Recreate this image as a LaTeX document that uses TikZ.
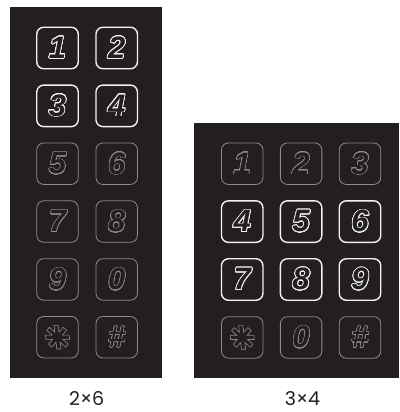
\documentclass[tikz,border=0pt]{standalone}
\usepackage{fontspec}
\usepackage{contour}
\newfontfamily\digitfont{Liberation Sans}
\newfontfamily\labelfont{Poppins}
\definecolor{panel}{HTML}{231F20}
\definecolor{brightc}{HTML}{F2F2F2}
\definecolor{dimc}{HTML}{8C8C8C}
\contournumber{24}
\tikzset{
  panelbox/.style={fill=panel, draw=none},
  keybright/.style={draw=brightc, line width=1.4pt, rounded corners=7pt, fill=panel,
     minimum width=41.5pt, minimum height=41.5pt, inner sep=0pt},
  keydim/.style={draw=dimc, line width=0.8pt, rounded corners=7pt, fill=panel,
     minimum width=41.5pt, minimum height=41.5pt, inner sep=0pt},
  glyph/.style={inner sep=0pt, text=panel, font=\digitfont\bfseries\itshape\fontsize{31}{31}\selectfont},
  caption/.style={inner sep=0pt, text=panel, font=\labelfont\fontsize{19}{19}\selectfont},
}
\newcommand{\brightglyph}[1]{\contourlength{0.8pt}\contour{brightc}{#1}}
\newcommand{\dimglyph}[1]{\contourlength{0.5pt}\contour{dimc}{#1}}
\newcommand{\starglyph}[3]{% centre, colour, width
  \draw[draw=#2, line width=#3, fill=panel, line join=miter, xslant=-0.12, shift={(#1)}]
    (-22.5:5.6) \foreach \k in {0,...,7}{ -- ({\k*45-10}:12) -- ({\k*45+10}:12) -- ({\k*45+22.5}:5.6)} -- cycle;}
\begin{document}
\begin{tikzpicture}[x=1pt,y=-1pt]
\useasboundingbox (0,0) rectangle (399,412);
% panels
\fill[panelbox] (9.5,7) rectangle (161.5,377.5);
\fill[panelbox] (194,122.5) rectangle (399,377.7);
% left keypad 2x6
\foreach \t/\c/\r/\s in {1/0/0/b,2/1/0/b,3/0/1/b,4/1/1/b,5/0/2/d,6/1/2/d,7/0/3/d,8/1/3/d,9/0/4/d,0/1/4/d}{
  \pgfmathsetmacro\xx{57.5+59.2*\c}
  \pgfmathsetmacro\yy{48+57.85*\r}
  \if\s b
    \node[keybright] (L\t) at (\xx,\yy) {};
    \node[glyph] (LG\t) at (L\t) {\brightglyph{\t}};
  \else
    \node[keydim] (L\t) at (\xx,\yy) {};
    \node[glyph] (LG\t) at (L\t) {\dimglyph{\t}};
  \fi
}
\node[keydim] (Lstar) at (57.5,337.2) {};
\starglyph{Lstar}{dimc}{0.6pt}
\node[keydim] (Lhash) at (116.7,337.2) {};
\node[glyph] (LGhash) at (Lhash) {\dimglyph{\#}};
% right keypad 3x4
\foreach \t/\c/\r/\s in {1/0/0/d,2/1/0/d,3/2/0/d,4/0/1/b,5/1/1/b,6/2/1/b,7/0/2/b,8/1/2/b,9/2/2/b}{
  \pgfmathsetmacro\xx{242.2+58.9*\c}
  \pgfmathsetmacro\yy{163.7+57.9*\r}
  \if\s b
    \node[keybright] (R\t) at (\xx,\yy) {};
    \node[glyph] (RG\t) at (R\t) {\brightglyph{\t}};
  \else
    \node[keydim] (R\t) at (\xx,\yy) {};
    \node[glyph] (RG\t) at (R\t) {\dimglyph{\t}};
  \fi
}
\node[keydim] (Rstar) at (242.2,337.4) {};
\starglyph{Rstar}{dimc}{0.6pt}
\node[keydim] (R0) at (301.1,337.4) {};
\node[glyph] (RG0) at (R0) {\dimglyph{0}};
\node[keydim] (Rhash) at (360,337.4) {};
\node[glyph] (RGhash) at (Rhash) {\dimglyph{\#}};
% captions
\node[caption] (cap1) at (86.7,398.5) {2×6};
\node[caption] (cap2) at (302.5,398.5) {3×4};
\end{tikzpicture}
\end{document}
